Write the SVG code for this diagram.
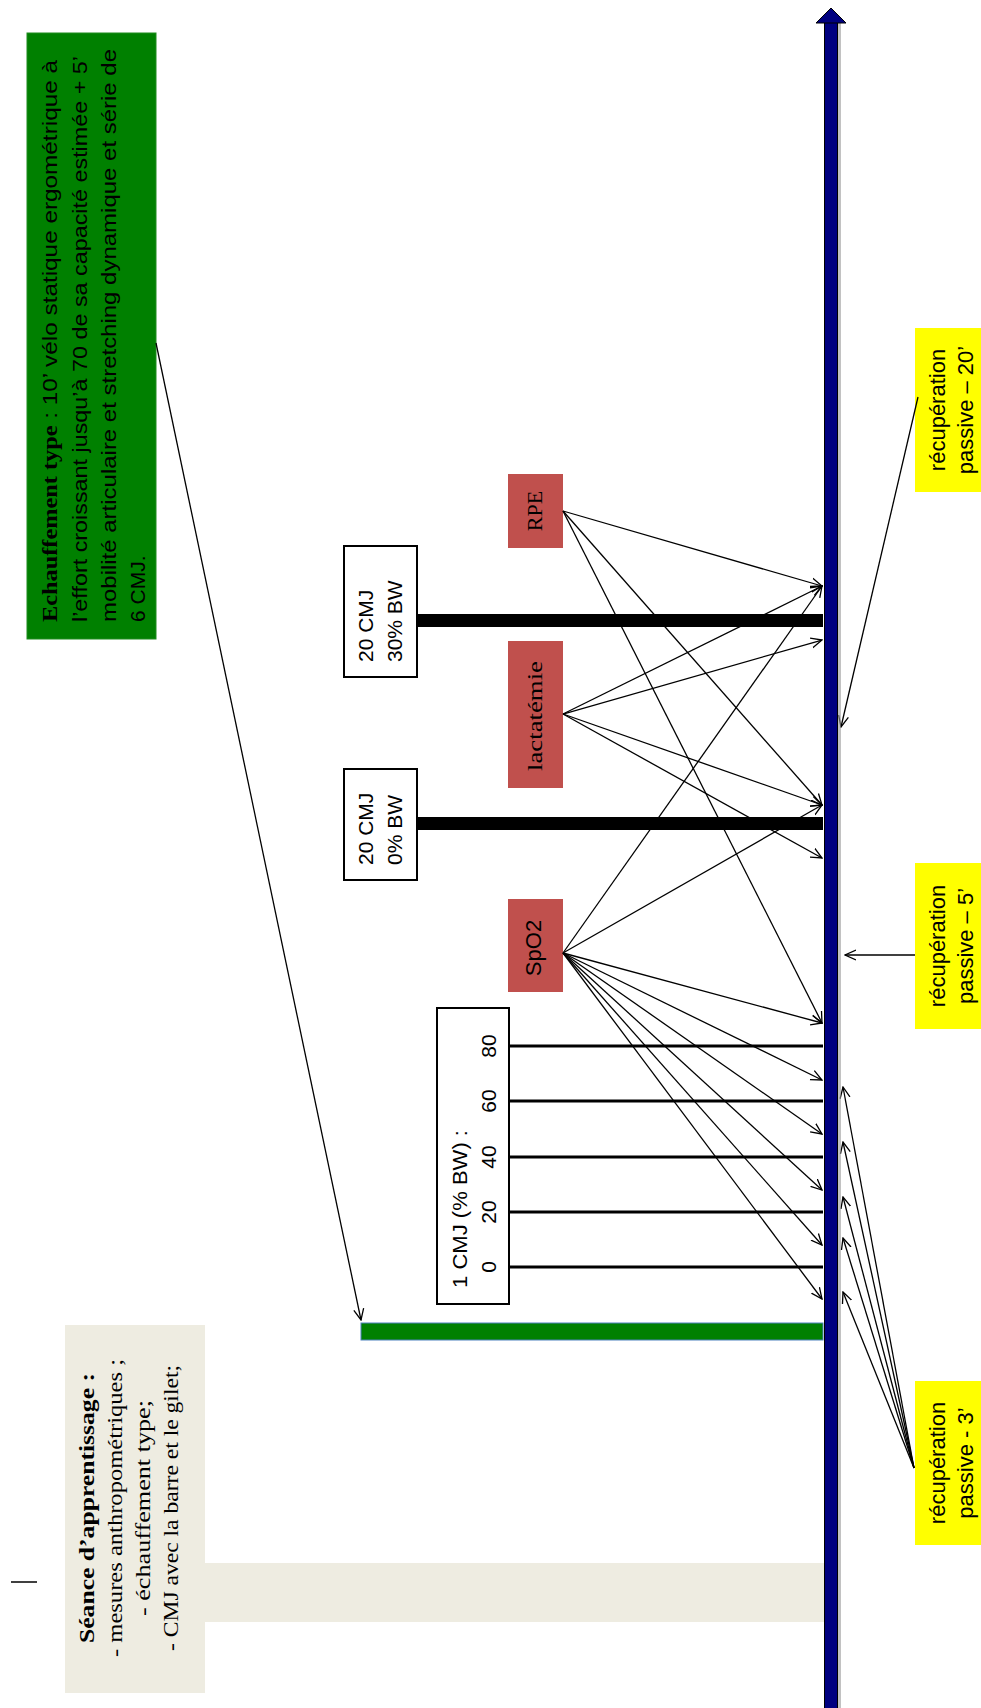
<svg xmlns="http://www.w3.org/2000/svg" width="981" height="1708" viewBox="0 0 981 1708">
  <style>
    .sans { font-family: "Liberation Sans", Arial, sans-serif; fill: #000; }
    .serif { font-family: "Liberation Serif", "Times New Roman", serif; fill: #000; }
    .conn { stroke: #000; stroke-width: 1.3; fill: none; marker-end: url(#arr); }
    .tick { stroke: #000; stroke-width: 3; }
    .red { fill: #C0504D; }
    .yellow { fill: #FFFF00; }
    .tan { fill: #EEECE1; }
    .frame { fill: #fff; stroke: #000; stroke-width: 2; }
  </style>
  <defs>
    <marker id="arr" viewBox="0 0 12 12" refX="11" refY="6" markerWidth="12" markerHeight="12" markerUnits="userSpaceOnUse" orient="auto">
      <path d="M0,1 L11,6 L0,11" fill="none" stroke="#000" stroke-width="1.3"/>
    </marker>
  </defs>

  <rect width="981" height="1708" fill="#fff"/>

  <!-- learning session block and its band to the axis -->
  <g id="seance">
    <rect class="tan" x="65" y="1325" width="140" height="368"/>
    <rect class="tan" x="205" y="1563" width="620" height="59"/>
    <g class="serif" font-size="22" text-anchor="middle">
      <text transform="translate(94,1508) rotate(-90)" font-weight="bold" textLength="270" lengthAdjust="spacingAndGlyphs">Séance d’apprentissage :</text>
      <text transform="translate(122,1508) rotate(-90)" textLength="298" lengthAdjust="spacingAndGlyphs">- mesures anthropométriques ;</text>
      <text transform="translate(150,1508) rotate(-90)" textLength="216" lengthAdjust="spacingAndGlyphs">- échauffement type;</text>
      <text transform="translate(178,1508) rotate(-90)" textLength="286" lengthAdjust="spacingAndGlyphs">- CMJ avec la barre et le gilet;</text>
    </g>
  </g>
  <line x1="11" y1="1582" x2="37" y2="1582" stroke="#000" stroke-width="1.5"/>

  <!-- warm-up description -->
  <g id="echauffement">
    <rect x="27" y="33" width="129" height="606" fill="#008000" stroke="#1E8C1E" stroke-width="1"/>
    <g class="sans" font-size="21">
      <text transform="translate(57,622) rotate(-90)" textLength="562" lengthAdjust="spacingAndGlyphs"><tspan class="serif" font-weight="bold">Echauffement type</tspan> : 10’ vélo statique ergométrique à</text>
      <text transform="translate(87,622) rotate(-90)" textLength="566" lengthAdjust="spacingAndGlyphs">l’effort croissant jusqu’à 70 de sa capacité estimée + 5’</text>
      <text transform="translate(116,622) rotate(-90)" textLength="573" lengthAdjust="spacingAndGlyphs">mobilité articulaire et stretching dynamique et série de</text>
      <text transform="translate(145,622) rotate(-90)">6 CMJ.</text>
    </g>
  </g>

  <!-- warm-up bar -->
  <g id="warmup-bar">
    <rect x="361" y="1323" width="462" height="17" fill="#008000" stroke="#4F81BD" stroke-width="1"/>
  </g>

  <!-- single CMJ series -->
  <g id="cmj-single">
    <rect class="frame" x="437" y="1008" width="72" height="296"/>
    <line class="tick" x1="509" y1="1046" x2="823" y2="1046"/>
    <line class="tick" x1="509" y1="1101" x2="823" y2="1101"/>
    <line class="tick" x1="509" y1="1157" x2="823" y2="1157"/>
    <line class="tick" x1="509" y1="1212" x2="823" y2="1212"/>
    <line class="tick" x1="509" y1="1267" x2="823" y2="1267"/>
    <g class="sans" font-size="21">
      <text transform="translate(467,1288) rotate(-90)" textLength="158" lengthAdjust="spacingAndGlyphs">1 CMJ (% BW) :</text>
      <g text-anchor="middle">
        <text transform="translate(496,1267) rotate(-90)">0</text>
        <text transform="translate(496,1212) rotate(-90)">20</text>
        <text transform="translate(496,1157) rotate(-90)">40</text>
        <text transform="translate(496,1101) rotate(-90)">60</text>
        <text transform="translate(496,1046) rotate(-90)">80</text>
      </g>
    </g>
  </g>

  <!-- 20 CMJ at 0% body weight -->
  <g id="cmj-0">
    <rect class="frame" x="344" y="769" width="73" height="111"/>
    <rect x="417" y="817" width="406" height="13" fill="#000"/>
    <g class="sans" font-size="21">
      <text transform="translate(373,865) rotate(-90)">20 CMJ</text>
      <text transform="translate(402,865) rotate(-90)">0% BW</text>
    </g>
  </g>

  <!-- 20 CMJ at 30% body weight -->
  <g id="cmj-30">
    <rect class="frame" x="344" y="546" width="73" height="131"/>
    <rect x="417" y="614" width="406" height="13" fill="#000"/>
    <g class="sans" font-size="21">
      <text transform="translate(373,662) rotate(-90)">20 CMJ</text>
      <text transform="translate(402,662) rotate(-90)">30% BW</text>
    </g>
  </g>

  <!-- measurements -->
  <g id="rpe">
    <rect class="red" x="508" y="474" width="55" height="74"/>
    <text class="serif" font-size="22" text-anchor="middle" transform="translate(542,511) rotate(-90)">RPE</text>
  </g>
  <g id="lactatemie">
    <rect class="red" x="508" y="641" width="55" height="147"/>
    <text class="serif" font-size="22" text-anchor="middle" transform="translate(542,716) rotate(-90)" textLength="110" lengthAdjust="spacingAndGlyphs">lactatémie</text>
  </g>
  <g id="spo2">
    <rect class="red" x="508" y="899" width="55" height="93"/>
    <text class="sans" font-size="22" text-anchor="middle" transform="translate(541,948) rotate(-90)">SpO2</text>
  </g>

  <!-- passive recovery labels -->
  <g id="recup-20">
    <rect class="yellow" x="915" y="328" width="66" height="164"/>
    <g class="sans" font-size="22" text-anchor="middle">
      <text transform="translate(945,410) rotate(-90)">récupération</text>
      <text transform="translate(973,410) rotate(-90)">passive – 20’</text>
    </g>
  </g>
  <g id="recup-5">
    <rect class="yellow" x="915" y="863" width="66" height="166"/>
    <g class="sans" font-size="22" text-anchor="middle">
      <text transform="translate(945,946) rotate(-90)">récupération</text>
      <text transform="translate(973,946) rotate(-90)">passive – 5’</text>
    </g>
  </g>
  <g id="recup-3">
    <rect class="yellow" x="915" y="1381" width="66" height="164"/>
    <g class="sans" font-size="22" text-anchor="middle">
      <text transform="translate(945,1463) rotate(-90)">récupération</text>
      <text transform="translate(973,1463) rotate(-90)">passive - 3’</text>
    </g>
  </g>

  <!-- connectors -->
  <g id="connectors">
    <line class="conn" x1="156" y1="343" x2="361" y2="1320"/>

    <line class="conn" x1="563" y1="511" x2="822" y2="586"/>
    <line class="conn" x1="563" y1="511" x2="822" y2="805"/>
    <line class="conn" x1="563" y1="511" x2="822" y2="1023"/>

    <line class="conn" x1="563" y1="714" x2="822" y2="586"/>
    <line class="conn" x1="563" y1="714" x2="822" y2="640"/>
    <line class="conn" x1="563" y1="714" x2="822" y2="805"/>
    <line class="conn" x1="563" y1="714" x2="822" y2="858"/>

    <line class="conn" x1="563" y1="953" x2="822" y2="586"/>
    <line class="conn" x1="563" y1="953" x2="822" y2="805"/>
    <line class="conn" x1="563" y1="953" x2="822" y2="1023"/>
    <line class="conn" x1="563" y1="953" x2="822" y2="1080"/>
    <line class="conn" x1="563" y1="953" x2="822" y2="1134"/>
    <line class="conn" x1="563" y1="953" x2="822" y2="1190"/>
    <line class="conn" x1="563" y1="953" x2="822" y2="1245"/>
    <line class="conn" x1="563" y1="953" x2="822" y2="1299"/>

    <line class="conn" x1="918" y1="397" x2="841" y2="727"/>
    <line class="conn" x1="915" y1="955" x2="845" y2="955"/>

    <line class="conn" x1="914" y1="1468" x2="843" y2="1087"/>
    <line class="conn" x1="914" y1="1468" x2="843" y2="1142"/>
    <line class="conn" x1="914" y1="1468" x2="843" y2="1197"/>
    <line class="conn" x1="914" y1="1468" x2="843" y2="1238"/>
    <line class="conn" x1="914" y1="1468" x2="843" y2="1292"/>
  </g>

  <!-- time axis -->
  <g id="axis">
    <rect x="838" y="22" width="3" height="1690" fill="#9a9a9a" opacity="0.6"/>
    <rect x="824.5" y="20" width="13" height="1692" fill="#000080" stroke="#000" stroke-width="1"/>
    <polygon points="831,8 846,23 816,23" fill="#000080" stroke="#000" stroke-width="1"/>
  </g>
</svg>
